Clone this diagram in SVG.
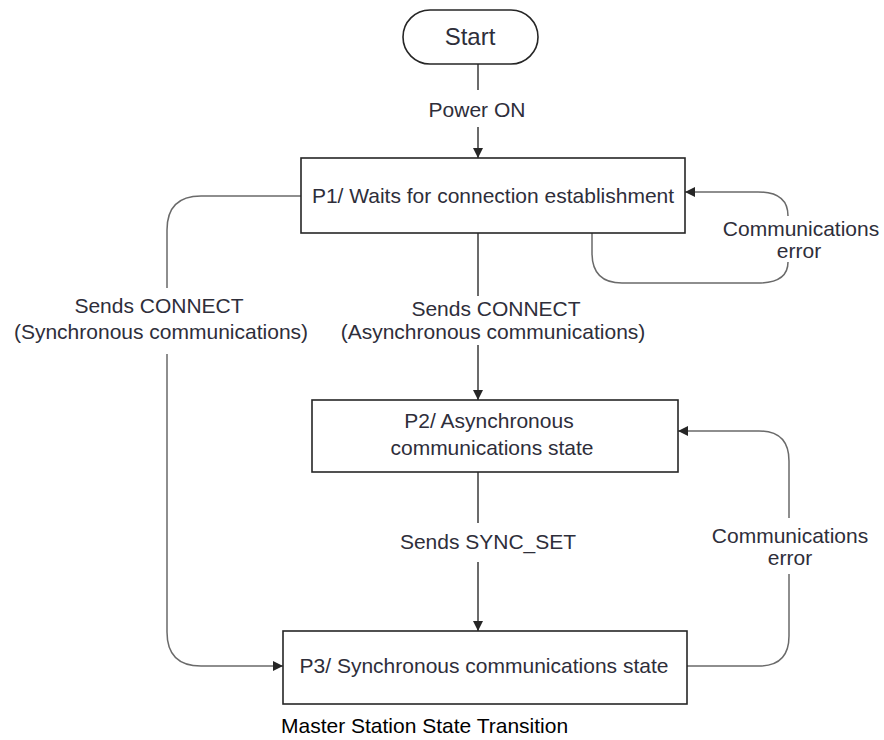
<svg xmlns="http://www.w3.org/2000/svg" width="884" height="740" viewBox="0 0 884 740">
<style>
.box{fill:#fff;stroke:#262626;stroke-width:1.6}
.t{font-family:"Liberation Sans",Arial,sans-serif;font-size:21px;fill:#2e2e3a;text-anchor:middle}
.cap{font-family:"Liberation Sans",Arial,sans-serif;font-size:21px;fill:#000;text-anchor:start}
.ln{fill:none;stroke:#3a3a3a;stroke-width:1.5}
.lg{fill:none;stroke:#6a6a6a;stroke-width:1.5}
</style>
<defs>
<marker id="ah" viewBox="0 0 10 10" refX="10" refY="5" markerWidth="10" markerHeight="10" markerUnits="userSpaceOnUse" orient="auto">
<path d="M0,0 L10,5 L0,10 Z" fill="#262626"/>
</marker>
</defs>
<rect width="884" height="740" fill="#fff"/>
<g id="connectors">
<path class="ln" d="M478,64 V90"/>
<path class="ln" d="M478,127 V158" marker-end="url(#ah)"/>
<path class="ln" d="M478,233 V296"/>
<path class="ln" d="M478,345 V400" marker-end="url(#ah)"/>
<path class="ln" d="M478,472 V523"/>
<path class="ln" d="M478,562 V631" marker-end="url(#ah)"/>
<path class="lg" d="M302,196 H201 Q167,196 167,230 V288"/>
<path class="lg" d="M167,354 V632 Q167,666 201,666 H283" marker-end="url(#ah)"/>
<path class="lg" d="M592,233 V253 Q592,283 622,283 H758 Q788,283 788,262"/>
<path class="lg" d="M788,216 Q788,192 758,192 H685" marker-end="url(#ah)"/>
<path class="lg" d="M687,666 H759 Q789,666 789,636 V574"/>
<path class="lg" d="M789,518 V461 Q789,431 759,431 H678" marker-end="url(#ah)"/>
</g>
<g id="start">
<rect x="403" y="10" width="135" height="54" rx="27" ry="27" class="box" stroke="#444"/>
<text x="470" y="45" class="t" style="font-size:24px">Start</text>
</g>
<g id="p1">
<rect x="301" y="158" width="384" height="75" class="box"/>
<text x="493" y="203" class="t">P1/ Waits for connection establishment</text>
</g>
<g id="p2">
<rect x="312" y="400" width="366" height="72" class="box"/>
<text x="489" y="428" class="t">P2/ Asynchronous</text>
<text x="492" y="455" class="t">communications state</text>
</g>
<g id="p3">
<rect x="283" y="631" width="404" height="73" class="box"/>
<text x="484" y="673" class="t">P3/ Synchronous communications state</text>
</g>
<g id="labels">
<text x="477" y="117" class="t">Power ON</text>
<text x="159" y="313" class="t">Sends CONNECT</text>
<text x="161" y="339" class="t">(Synchronous communications)</text>
<text x="496" y="316" class="t">Sends CONNECT</text>
<text x="493" y="339" class="t">(Asynchronous communications)</text>
<text x="488" y="549" class="t">Sends SYNC_SET</text>
<text x="801" y="236" class="t">Communications</text>
<text x="799" y="258" class="t">error</text>
<text x="790" y="543" class="t">Communications</text>
<text x="790" y="565" class="t">error</text>
</g>
<text x="281" y="733" class="cap">Master Station State Transition</text>
</svg>
